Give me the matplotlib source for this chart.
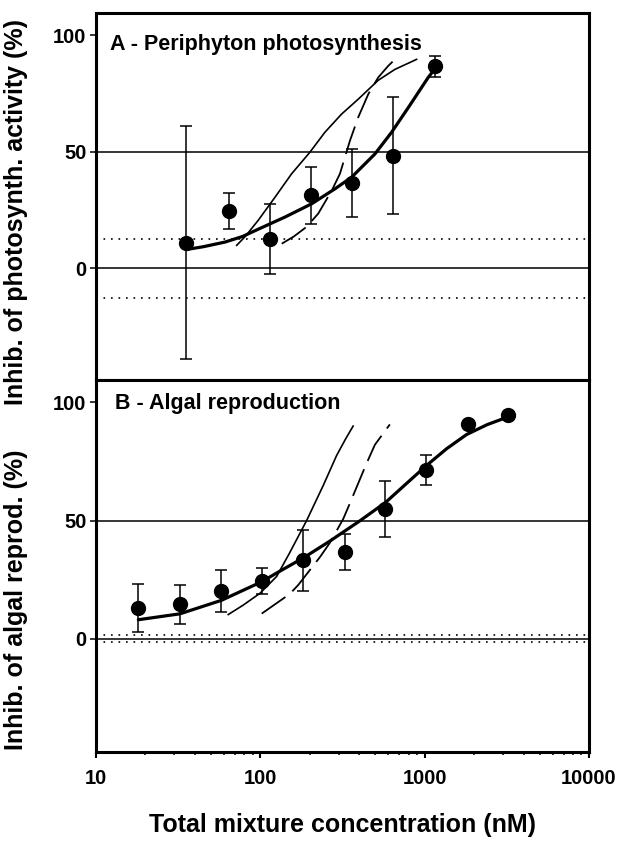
import matplotlib
matplotlib.use('Agg')
import matplotlib.pyplot as plt
from matplotlib.ticker import LogLocator, NullFormatter, FixedLocator

plt.rcParams['font.family'] = ['Liberation Sans', 'DejaVu Sans']
plt.rcParams['font.weight'] = 'bold'

# --- panel A: periphyton photosynthesis ---
a_conc = [35.5, 64.5, 115, 204, 362, 643, 1150]
a_inhib = [10.8, 24.4, 12.4, 31.2, 36.5, 48.3, 86.7]
a_err = [50, 7.7, 15, 12.1, 14.5, 25, 4.5]

# fitted curve (thick), concentration addition (thin), independent action (dashed)
a_fit_x = [35.5, 45, 61, 78, 97, 141, 205, 284, 359, 498, 629, 795, 1050, 1127]
a_fit_y = [8.0, 9.2, 11.2, 13.6, 16.7, 21.9, 27.6, 34.0, 39.0, 49.0, 58.3, 68.9, 81.8, 84.6]
a_ca_x = [71.8, 80.5, 97, 123, 155, 200, 247, 312, 394, 521, 659, 893]
a_ca_y = [9.8, 13.4, 20.5, 30.5, 40.5, 49.7, 58.3, 66.1, 72.5, 80.6, 85.3, 89.6]
a_ia_x = [135, 160, 191, 225, 272, 305, 351, 394, 454, 521, 600, 675]
a_ia_y = [10.5, 13.6, 17.7, 23.4, 33.3, 40.5, 54.7, 64.7, 74.7, 81.8, 86.8, 90.3]
a_band = 12.7

# --- panel B: algal reproduction ---
b_conc = [18.1, 32.4, 57.9, 102, 182, 326, 577, 1014, 1824, 3213]
b_inhib = [13.0, 14.5, 20.2, 24.4, 33.1, 36.7, 54.9, 71.3, 91.0, 94.6]
b_err = [10.2, 8.4, 9, 5.7, 13, 7.7, 12, 6.4, 0, 0]

b_fit_x = [18.1, 32.4, 57.9, 102, 131, 184, 265, 404, 581, 770, 1026, 1360, 1798, 2400, 3222]
b_fit_y = [8.0, 10.5, 16.2, 24.1, 28.5, 34.3, 41.3, 49.9, 57.8, 65.5, 73.3, 80.4, 86.4, 90.6, 93.9]
b_ca_x = [63.8, 78.7, 99.5, 125.6, 151, 191, 242, 291, 330, 367]
b_ca_y = [10.2, 14.2, 19.2, 26.3, 36.4, 49.9, 65.0, 77.5, 84.5, 90]
b_ia_x = [102, 151, 170, 231, 265, 319, 343, 443, 498, 614]
b_ia_y = [10.6, 18.9, 22.7, 34.6, 40.6, 50.6, 55.7, 74.2, 82.1, 90.7]
b_band = 1.6

fig = plt.figure(figsize=(6.21, 8.41), dpi=100)
ax_a = fig.add_axes([96 / 621, 1 - 380 / 841, 493 / 621, 367 / 841])
ax_b = fig.add_axes([96 / 621, 1 - 752 / 841, 493 / 621, 372 / 841])


def draw_panel(ax, conc, inhib, err, fx, fy, cx, cy, ix, iy, band, title, tx, ty):
    ax.set_xscale('log')
    ax.set_xlim(10, 10000)
    ax.set_ylim(-48, 109.5)
    ax.axhline(0, color='black', lw=1.1, zorder=1)
    ax.axhline(50, color='black', lw=1.1, zorder=1)
    ax.axhline(band, color='black', lw=1.2, ls=(0, (1, 3.5)), zorder=1)
    ax.axhline(-band, color='black', lw=1.2, ls=(0, (1, 3.5)), zorder=1)
    ax.plot(cx, cy, color='black', lw=1.2, zorder=2, solid_joinstyle='round')
    ax.plot(ix, iy, color='black', lw=1.3, ls=(0, (16, 5)), zorder=2)
    ax.plot(fx, fy, color='black', lw=2.3, zorder=3,
            solid_capstyle='round', solid_joinstyle='round')
    ax.errorbar(conc, inhib, yerr=err, fmt='o', color='black', ms=10,
                elinewidth=1.1, capsize=4, capthick=1.1, zorder=4)
    ax.text(tx, ty, title, transform=ax.transAxes, fontsize=15.5,
            fontweight='bold', va='center', ha='left')
    ax.yaxis.set_major_locator(FixedLocator([0, 50, 100]))
    ax.tick_params(axis='y', direction='out', length=4, width=1.1,
                   labelsize=14.5, pad=3)
    for s in ax.spines.values():
        s.set_linewidth(2.2)


draw_panel(ax_a, a_conc, a_inhib, a_err, a_fit_x, a_fit_y, a_ca_x, a_ca_y,
           a_ia_x, a_ia_y, a_band, 'A - Periphyton photosynthesis', 0.028, 0.913)
draw_panel(ax_b, b_conc, b_inhib, b_err, b_fit_x, b_fit_y, b_ca_x, b_ca_y,
           b_ia_x, b_ia_y, b_band, 'B - Algal reproduction', 0.038, 0.938)

ax_a.tick_params(axis='x', which='both', bottom=False, labelbottom=False)
ax_b.xaxis.set_minor_locator(LogLocator(base=10, subs=range(2, 10), numticks=10))
ax_b.xaxis.set_minor_formatter(NullFormatter())
ax_b.set_xticks([10, 100, 1000, 10000])
ax_b.set_xticklabels(['10', '100', '1000', '10000'])
ax_b.tick_params(axis='x', which='major', direction='out', length=4, width=1.5,
                 labelsize=14.5, pad=8)
ax_b.tick_params(axis='x', which='minor', direction='out', length=2.5, width=1.1)

ax_a.set_ylabel('Inhib. of photosynth. activity (%)', fontsize=18, fontweight='bold')
ax_a.yaxis.set_label_coords(-0.138, 0.458)
ax_b.set_ylabel('Inhib. of algal reprod. (%)', fontsize=18, fontweight='bold')
ax_b.yaxis.set_label_coords(-0.138, 0.41)
ax_b.set_xlabel('Total mixture concentration (nM)', fontsize=18, fontweight='bold',
                labelpad=18)

fig.savefig('out.png', dpi=100)
